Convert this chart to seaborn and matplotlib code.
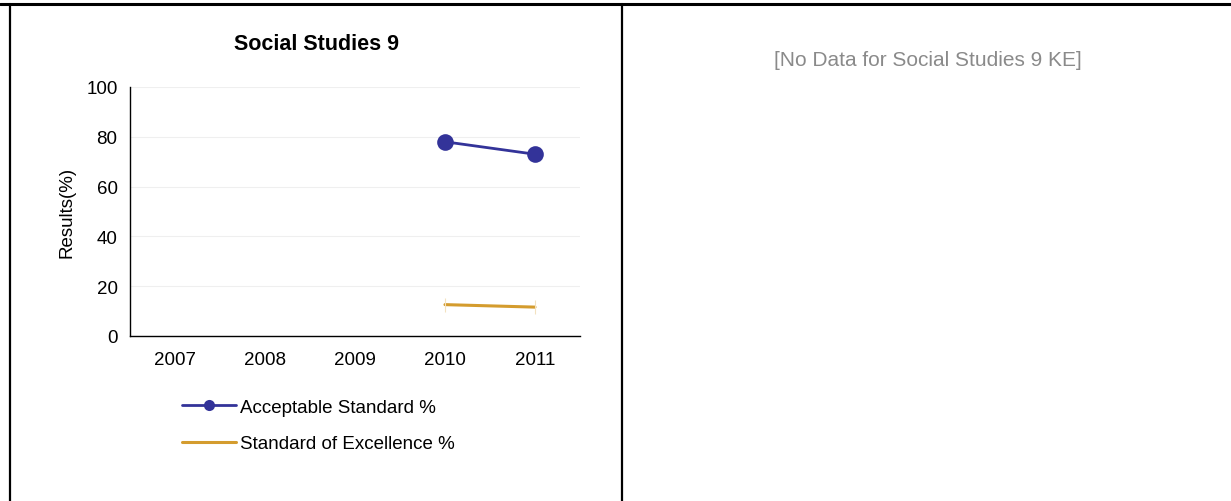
import numpy as np
import pandas as pd
import seaborn as sns
import matplotlib.pyplot as plt
from matplotlib.lines import Line2D

# data
years = ['2007', '2008', '2009', '2010', '2011']
acceptable = [np.nan, np.nan, np.nan, 78.0, 73.0]
excellence = [np.nan, np.nan, np.nan, 12.6, 11.6]

series_names = ['Acceptable Standard %', 'Standard of Excellence %']
colors = ['#333399', '#D49C2E']

df = pd.DataFrame({
    'pos': list(range(len(years))) * 2,
    'value': acceptable + excellence,
    'series': [series_names[0]] * len(years) + [series_names[1]] * len(years),
})

sns.set_style('white')
plt.rcParams['font.family'] = ['Liberation Sans', 'DejaVu Sans']
plt.rcParams['text.color'] = 'black'

W, H = 1231, 502
fig = plt.figure(figsize=(W / 100, H / 100), dpi=100)
ax = fig.add_axes([130 / W, 1 - 337 / H, 450 / W, 249 / H])

# acceptable: line + big round markers
sns.lineplot(data=df[df.series == series_names[0]], x='pos', y='value',
             color=colors[0], lw=2, marker='o', markersize=12,
             markeredgewidth=0, ax=ax, legend=False)
# excellence: line with faint tick markers
sns.lineplot(data=df[df.series == series_names[1]], x='pos', y='value',
             color=colors[1], lw=2.2, marker='|', markersize=10,
             markeredgewidth=0.8, markeredgecolor='#f3e2c0', ax=ax, legend=False)

ax.set_xlim(-0.5, len(years) - 0.5)
ax.set_ylim(0, 100)
ax.set_xticks(range(len(years)))
ax.set_xticklabels(years)
ax.set_yticks([0, 20, 40, 60, 80, 100])
ax.tick_params(axis='both', length=0, labelsize=13.5, colors='black')
ax.tick_params(axis='x', pad=11)
ax.tick_params(axis='y', pad=9)
ax.yaxis.grid(True, color='#efefef', lw=0.8)
ax.set_axisbelow(True)
for s in ['top', 'right']:
    ax.spines[s].set_visible(False)
for s in ['left', 'bottom']:
    ax.spines[s].set_color('black')
    ax.spines[s].set_linewidth(1.0)
ax.set_xlabel('')
ax.set_ylabel('Results(%)', fontsize=13.5, labelpad=8, color='black')

# title centred over the left panel
fig.text(316 / W, 1 - 45 / H, 'Social Studies 9', ha='center', va='center',
         fontsize=15.5, fontweight='bold')

handles = [
    Line2D([], [], color=colors[0], lw=2, marker='o', markersize=8, markeredgewidth=0),
    Line2D([], [], color=colors[1], lw=2.2),
]
fig.legend(handles, series_names, loc='upper left',
           bbox_to_anchor=(165 / W, 1 - 383 / H), frameon=False,
           fontsize=13.5, handlelength=2.9, handletextpad=0.2,
           labelspacing=1.02)

# right panel message
fig.text(928 / W, 1 - 60 / H, '[No Data for Social Studies 9 KE]',
         ha='center', va='center', color='#8a8a8a', fontsize=15)

# table borders
fig.add_artist(Line2D([0, 1], [1 - 4.5 / H, 1 - 4.5 / H], color='black', lw=2.2))
fig.add_artist(Line2D([10 / W, 10 / W], [0, 1 - 4.5 / H], color='black', lw=1.6))
fig.add_artist(Line2D([622 / W, 622 / W], [0, 1 - 4.5 / H], color='black', lw=1.6))

fig.savefig('out.png', dpi=100)
